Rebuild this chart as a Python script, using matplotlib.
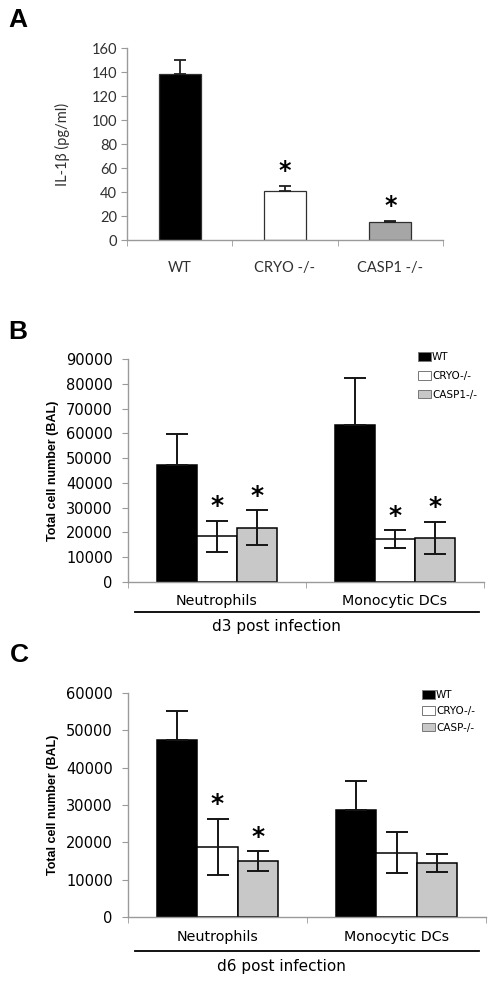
import matplotlib
matplotlib.use("Agg")
import matplotlib.pyplot as plt
from matplotlib.patches import Patch
from matplotlib.lines import Line2D
import numpy as np

W, H = 495, 984
DPI = 100

# ---------------- data ----------------
a_groups = ["WT", "CRYO -/-", "CASP1 -/-"]
a_means = [138, 41, 15]
a_err = [12, 4, 1]
a_sig = [False, True, True]

cells = ["Neutrophils", "Monocytic DCs"]

b_wt = [47200, 63500]
b_wt_err = [12600, 18800]
b_cryo = [18400, 17300]
b_cryo_err = [6300, 3500]
b_casp = [21900, 17700]
b_casp_err = [7000, 6600]
b_sig_cryo = [True, True]
b_sig_casp = [True, True]

c_wt = [47300, 28700]
c_wt_err = [7800, 7800]
c_cryo = [18800, 17200]
c_cryo_err = [7500, 5500]
c_casp = [15000, 14500]
c_casp_err = [2600, 2500]
c_sig_cryo = [True, False]
c_sig_casp = [True, False]

b_legend = ["WT", "CRYO-/-", "CASP1-/-"]
c_legend = ["WT", "CRYO-/-", "CASP-/-"]

fig = plt.figure(figsize=(W / DPI, H / DPI), dpi=DPI)


def px_axes(left, top, right, bottom):
    return fig.add_axes([left / W, 1 - bottom / H, (right - left) / W, (bottom - top) / H])


def fig_xy(x, y):
    return x / W, 1 - y / H


SPINE = "#9a9a9a"

# ---------------- Panel A ----------------
fontA = "Lato"
txtA = "#303030"
axA = px_axes(127, 48, 443, 240)
xA = np.arange(len(a_groups))
colorsA = ["black", "white", "#a6a6a6"]
axA.bar(xA, a_means, width=0.4, color=colorsA, edgecolor="#303030", linewidth=0.9, zorder=2)
axA.errorbar(xA, a_means, yerr=[np.zeros(len(a_err)), a_err], fmt="none",
             ecolor="#202020", elinewidth=1.3, capsize=4, capthick=1.3, zorder=3)
for xi, m, e, s in zip(xA, a_means, a_err, a_sig):
    if s:
        axA.annotate("*", xy=(xi, m + e), xytext=(0, 2), textcoords="offset points",
                     ha="center", va="bottom", fontsize=17, fontweight="bold",
                     family="DejaVu Sans", color="black")
axA.set_xlim(-0.5, 2.5)
axA.set_ylim(0, 160)
axA.set_yticks(np.arange(0, 161, 20))
axA.set_xticks(xA)
axA.set_xticklabels(a_groups, fontsize=10.5, family=fontA, color=txtA)
axA.set_xticks([-0.5, 0.5, 1.5, 2.5], minor=True)
axA.tick_params(axis="x", which="major", length=0, pad=15)
axA.tick_params(axis="x", which="minor", length=4, color=SPINE, direction="out")
axA.tick_params(axis="y", length=4, color=SPINE, pad=3, labelsize=10.5, labelcolor=txtA)
for lab in axA.get_yticklabels():
    lab.set_family(fontA)
for sp in ["top", "right"]:
    axA.spines[sp].set_visible(False)
for sp in ["left", "bottom"]:
    axA.spines[sp].set_color(SPINE)
    axA.spines[sp].set_linewidth(1.0)
axA.set_ylabel("IL-1β (pg/ml)", fontsize=10.5, family=fontA, color=txtA, labelpad=16)
fig.text(*fig_xy(18, 20), "A", fontsize=19, fontweight="bold", family="Liberation Sans",
         ha="center", va="center")


# ---------------- Panels B and C ----------------
def grouped_panel(box, ymax, ystep, wt, wt_err, cryo, cryo_err, casp, casp_err,
                  sig_cryo, sig_casp, legend_labels, legend_xy, legend_gap,
                  line_y, line_x0, line_x1, day_text, day_x, day_y, letter, letter_xy):
    ax = px_axes(*box)
    x = np.arange(len(cells))
    w = 0.225
    cols = ["black", "white", "#c8c8c8"]
    series = [(wt, wt_err), (cryo, cryo_err), (casp, casp_err)]
    for i, (vals, errs) in enumerate(series):
        xi = x + (i - 1) * w
        ax.bar(xi, vals, width=w, color=cols[i], edgecolor="black", linewidth=1.1, zorder=2)
        if i == 0:
            yerr = [np.zeros(len(errs)), errs]
        else:
            yerr = [errs, errs]
        ax.errorbar(xi, vals, yerr=yerr, fmt="none", ecolor="#151515",
                    elinewidth=1.4, capsize=8, capthick=1.4, zorder=3)
    for i, (vals, errs, sig) in enumerate([(cryo, cryo_err, sig_cryo), (casp, casp_err, sig_casp)]):
        for j in range(len(cells)):
            if sig[j]:
                ax.annotate("*", xy=(x[j] + i * w, vals[j] + errs[j]), xytext=(0, 2),
                            textcoords="offset points", ha="center", va="bottom",
                            fontsize=18, fontweight="bold", family="DejaVu Sans")
    ax.set_xlim(-0.5, 1.5)
    ax.set_ylim(0, ymax)
    ax.set_yticks(np.arange(0, ymax + 1, ystep))
    ax.set_yticklabels([f"{int(v)}" for v in np.arange(0, ymax + 1, ystep)],
                       fontsize=10.5, family="DejaVu Sans")
    ax.set_xticks(x)
    ax.set_xticklabels(cells, fontsize=10.3, family="DejaVu Sans")
    ax.set_xticks([-0.5, 0.5, 1.5], minor=True)
    ax.tick_params(axis="x", which="major", length=0, pad=9)
    ax.tick_params(axis="x", which="minor", length=4, color=SPINE)
    ax.tick_params(axis="y", length=4, color=SPINE, pad=7)
    for sp in ["top", "right"]:
        ax.spines[sp].set_visible(False)
    for sp in ["left", "bottom"]:
        ax.spines[sp].set_color(SPINE)
        ax.spines[sp].set_linewidth(1.0)
    ax.set_ylabel("Total cell number (BAL)", fontsize=9, fontweight="bold",
                  family="Liberation Sans", labelpad=5)
    handles = [Patch(facecolor=c, edgecolor="#777777", linewidth=0.7) for c in cols]
    ax.legend(handles, legend_labels, loc="upper left",
              bbox_to_anchor=fig_xy(*legend_xy), bbox_transform=fig.transFigure,
              frameon=False, borderpad=0, borderaxespad=0, handlelength=1.2,
              handleheight=0.9, handletextpad=0.15, labelspacing=legend_gap,
              prop={"family": "DejaVu Sans", "size": 7.5})
    fig.add_artist(Line2D([line_x0 / W, line_x1 / W], [1 - line_y / H, 1 - line_y / H],
                          color="black", linewidth=1.3))
    fig.text(*fig_xy(day_x, day_y), day_text, fontsize=11,
             family="DejaVu Sans", ha="center", va="center")
    fig.text(*fig_xy(*letter_xy), letter, fontsize=19, fontweight="bold",
             family="Liberation Sans", ha="center", va="center")
    return ax


grouped_panel((128, 359, 484, 582), 90000, 10000, b_wt, b_wt_err, b_cryo, b_cryo_err,
              b_casp, b_casp_err, b_sig_cryo, b_sig_casp, b_legend, (418, 352), 0.85,
              612, 135, 479, "d3 post infection", 276, 626, "B", (18, 332))

grouped_panel((128, 693, 486, 917), 60000, 10000, c_wt, c_wt_err, c_cryo, c_cryo_err,
              c_casp, c_casp_err, c_sig_cryo, c_sig_casp, c_legend, (422, 690), 0.6,
              951, 135, 479, "d6 post infection", 281, 967, "C", (19, 655))

fig.savefig("out.png", dpi=DPI)
